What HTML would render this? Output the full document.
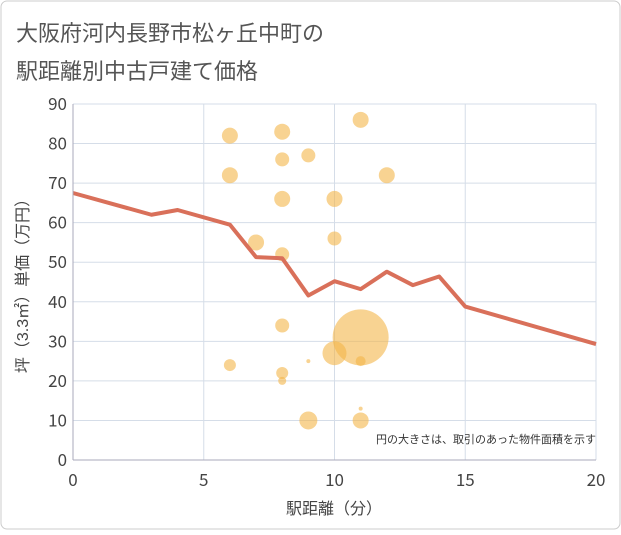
<!DOCTYPE html>
<html><head><meta charset="utf-8"><style>
body{margin:0;background:#fff;}
svg text{font-family:"Liberation Sans","Noto Sans CJK JP",sans-serif;}
svg text.num{font-family:"Noto Sans CJK JP","DejaVu Sans",sans-serif;}
</style></head><body>
<svg width="621" height="530" xmlns="http://www.w3.org/2000/svg">
<rect x="1" y="1" width="619" height="528" rx="6" fill="#fff" stroke="#ccc"/>
<text x="16" y="41" font-size="22" fill="#555">大阪府河内長野市松ヶ丘中町の</text>
<text x="16" y="79" font-size="22" fill="#555">駅距離別中古戸建て価格</text>
<g id="grid"></g>
<g id="bubbles"></g>
<g id="line"></g>
<g id="axes"></g>
<text x="596" y="443" font-size="11" fill="#333" text-anchor="end">円の大きさは、取引のあった物件面積を示す</text>
<text x="334" y="514" font-size="16" fill="#444" text-anchor="middle">駅距離（分）</text>
<text transform="translate(28,282) rotate(-90)" font-size="16" fill="#444" text-anchor="middle">坪（3.3㎡）単価（万円）</text>
</svg>
<script>
const xTicks=[0,5,10,15,20];
const yTicks=[0,10,20,30,40,50,60,70,80,90];
const lineX=[0,3,4,6,7,8,9,10,11,12,13,14,15,20];
const lineY=[67.5,62,63.2,59.5,51.3,51,41.6,45.2,43.2,47.6,44.2,46.4,38.8,29.3];
const bubX=[6,8,11,8,9,6,12,8,10,7,10,8,8,11,10,9,11,6,8,8,9,11,11];
const bubY=[82,83,86,76,77,72,72,66,66,55,56,52,34,31,27,25,25,24,22,20,10,10,13];
const bubR=[8,8,8,7,7,8,8,8,8,8,7,7,7,28,12,2,5,6,6,4,9,8,2];
const NS="http://www.w3.org/2000/svg";
const X0=73,X1=596,Y0=460,Y1=104;
const sx=v=>X0+(X1-X0)*v/20, sy=v=>Y0-(Y0-Y1)*v/90;
function mk(t,a,p){const e=document.createElementNS(NS,t);for(const k in a)e.setAttribute(k,a[k]);p.appendChild(e);return e;}
const g=document.getElementById('grid'),ax=document.getElementById('axes');
xTicks.forEach(t=>{const l=mk('line',{x1:sx(t),x2:sx(t),y1:Y1,y2:Y0,stroke:'#d5dde8'},g);

const tx=mk('text',{x:sx(t),y:Y0+26,'font-size':17,fill:'#444','text-anchor':'middle','class':'num'},ax);tx.textContent=t;
});
yTicks.forEach(t=>{const l=mk('line',{x1:X0,x2:X1,y1:sy(t),y2:sy(t),stroke:'#d5dde8'},g);

const tx=mk('text',{x:X0-6,y:sy(t)+6,'font-size':17,fill:'#444','text-anchor':'end','class':'num'},ax);tx.textContent=t;
});
const xa=mk('line',{x1:X0,x2:X1,y1:Y0,y2:Y0,stroke:'#aab'},ax);

const ya=mk('line',{x1:X0,x2:X0,y1:Y1,y2:Y0,stroke:'#aab'},ax);

const b=document.getElementById('bubbles');
bubX.forEach((v,i)=>{const c=mk('circle',{cx:sx(v),cy:sy(bubY[i]),r:bubR[i],fill:'#f3b54a','fill-opacity':0.6},b);
});
const pts=lineX.map((v,i)=>sx(v)+','+sy(lineY[i])).join(' ');
const pl=mk('polyline',{points:pts,fill:'none',stroke:'#d9705a','stroke-width':4,'stroke-linejoin':'round'},document.getElementById('line'));

</script>
</body></html>
